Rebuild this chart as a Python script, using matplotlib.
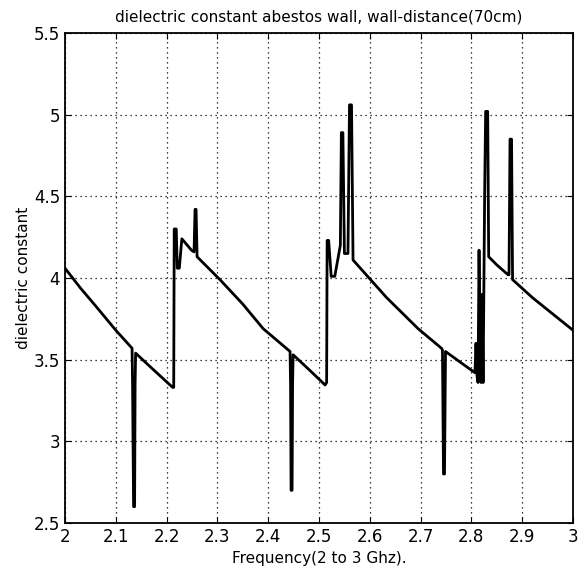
import matplotlib
matplotlib.use("Agg")
import matplotlib.pyplot as plt

# frequency (GHz) and dielectric constant
freq = [2.000, 2.030, 2.060, 2.100, 2.132, 2.133, 2.135, 2.137, 2.138, 2.139,
        2.170, 2.212, 2.214, 2.215, 2.219, 2.221, 2.225, 2.230, 2.249, 2.254,
        2.256, 2.258, 2.260, 2.305, 2.350, 2.390, 2.443, 2.444, 2.445, 2.447,
        2.448, 2.449, 2.480, 2.512, 2.515, 2.516, 2.519, 2.524, 2.531, 2.542,
        2.544, 2.547, 2.550, 2.557, 2.560, 2.564, 2.567, 2.633, 2.695,
        2.741, 2.743, 2.745, 2.747, 2.749, 2.780, 2.807, 2.809, 2.811, 2.813,
        2.815, 2.817, 2.819, 2.821, 2.823, 2.826, 2.828, 2.832, 2.834, 2.850,
        2.872, 2.874, 2.876, 2.879, 2.881, 2.920, 2.960, 3.000]
eps = [4.06, 3.94, 3.83, 3.68, 3.57, 3.35, 2.60, 2.60, 3.35, 3.54,
       3.45, 3.33, 3.33, 4.30, 4.30, 4.06, 4.06, 4.24, 4.17, 4.16,
       4.42, 4.42, 4.13, 3.99, 3.84, 3.69, 3.55, 3.35, 2.70, 2.70,
       3.35, 3.53, 3.44, 3.345, 3.36, 4.23, 4.23, 4.01, 4.01, 4.20,
       4.89, 4.89, 4.15, 4.15, 5.06, 5.06, 4.11, 3.88, 3.69,
       3.57, 3.56, 2.80, 2.80, 3.55, 3.48, 3.42, 3.60, 3.40, 3.36,
       4.17, 3.60, 3.36, 3.90, 3.36, 4.50, 5.02, 5.02, 4.13, 4.08,
       4.02, 4.02, 4.85, 4.85, 3.99, 3.88, 3.78, 3.68]

xticks = [2.0, 2.1, 2.2, 2.3, 2.4, 2.5, 2.6, 2.7, 2.8, 2.9, 3.0]
xticklabels = ["2", "2.1", "2.2", "2.3", "2.4", "2.5", "2.6", "2.7", "2.8", "2.9", "3"]
yticks = [2.5, 3.0, 3.5, 4.0, 4.5, 5.0, 5.5]
yticklabels = ["2.5", "3", "3.5", "4", "4.5", "5", "5.5"]

plt.rcParams["font.family"] = ["DejaVu Sans"]

fig = plt.figure(figsize=(5.84, 5.85), dpi=100)
ax = fig.add_axes([0.1113, 0.106, 0.8699, 0.8376])

ax.plot(freq, eps, color="black", linewidth=2.0)

ax.set_xlim(2.0, 3.0)
ax.set_ylim(2.5, 5.5)
ax.set_xticks(xticks)
ax.set_xticklabels(xticklabels)
ax.set_yticks(yticks)
ax.set_yticklabels(yticklabels)
ax.tick_params(direction="in", length=4, labelsize=12, top=True, right=True)
ax.grid(True, linestyle=(0, (1, 3)), color="black", linewidth=0.9)
for s in ax.spines.values():
    s.set_linewidth(1.3)

ax.set_title("dielectric constant abestos wall, wall-distance(70cm)", fontsize=11, pad=8)
ax.set_xlabel("Frequency(2 to 3 Ghz).", fontsize=11, labelpad=4)
ax.set_ylabel("dielectric constant", fontsize=11, labelpad=2)

fig.savefig("out.png", dpi=100)
